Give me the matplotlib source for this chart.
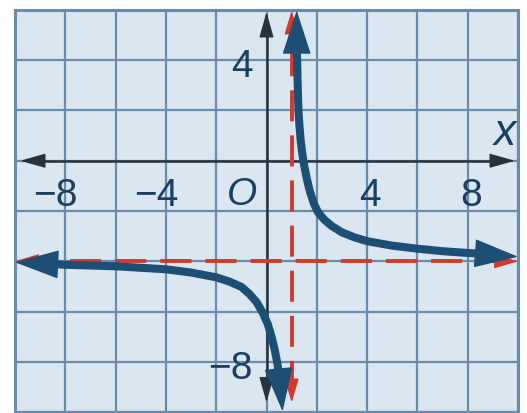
import matplotlib.pyplot as plt
import numpy as np

# right branch of the curve (top arrow tip first, right arrow tip last)
right_x = [1.2, 1.2, 1.22, 1.24, 1.27, 1.31, 1.36, 1.42, 1.5, 1.6, 1.72, 1.88, 2.05, 2.3, 2.6,
           3.0, 3.5, 4.0, 5.0, 6.0, 7.0, 8.0, 8.5, 10.0]
right_y = [5.98, 4.45, 4.0, 3.0, 2.0, 1.4, 0.8, 0.3, -0.2, -0.7, -1.2, -1.7, -2.05, -2.35, -2.6,
           -2.85, -3.05, -3.2, -3.38, -3.5, -3.6, -3.67, -3.7, -3.82]

# left branch (left arrow tip first, bottom arrow tip last)
left_x = [-10.0, -8.4, -8.0, -6.0, -4.0, -3.0, -2.0, -1.5, -1.0, -0.68, -0.4, -0.15, 0.05, 0.2,
          0.32, 0.42, 0.5, 0.64]
left_y = [-4.04, -4.12, -4.14, -4.2, -4.32, -4.45, -4.64, -4.8, -5.02, -5.3, -5.62, -6.05, -6.5,
          -7.0, -7.5, -8.0, -8.5, -9.98]

# asymptotes
asym_x = 1
asym_y = -4

# axis labels
xtick_vals = [-8, -4, 4, 8]
xtick_text = ["\u22128", "\u22124", "4", "8"]
ytick_vals = [4, -8]
ytick_text = ["4", "\u22128"]

bg = "#dbe7f0"
grid_c = "#6b8bab"
axis_c = "#26323f"
curve_c = "#1d4e74"
red = "#d23a2e"
text_c = "#1b3f63"

fig = plt.figure(figsize=(5.27, 4.13), dpi=100)
ax = fig.add_axes([15 / 527, 1 / 413, 503 / 527, 402 / 413])
ax.set_xlim(-10, 10)
ax.set_ylim(-10, 6)
ax.set_facecolor(bg)
ax.set_xticks(np.arange(-10, 11, 2))
ax.set_yticks(np.arange(-10, 7, 2))
ax.tick_params(length=0, labelbottom=False, labelleft=False)
ax.grid(True, color=grid_c, lw=1.6)
ax.set_axisbelow(True)
for s in ax.spines.values():
    s.set_color(grid_c)
    s.set_linewidth(2.2)

def arrow(x0, y0, x1, y1, color, hl, hw, ms, lw=1, z=3):
    ax.annotate("", xy=(x1, y1), xytext=(x0, y0), annotation_clip=False,
                arrowprops=dict(arrowstyle="-|>,head_length=%g,head_width=%g" % (hl, hw),
                                color=color, lw=lw, shrinkA=0, shrinkB=0, mutation_scale=ms),
                zorder=z)

# x and y axes with arrows at both ends
ax.plot([-9.2, 9.3], [0, 0], color=axis_c, lw=1.8, zorder=3)
ax.plot([0, 0], [-9.0, 5.3], color=axis_c, lw=1.8, zorder=3)
arrow(-9.0, 0, -9.8, 0, axis_c, 1.6, 0.45, 10)
arrow(9.0, 0, 9.88, 0, axis_c, 1.6, 0.45, 10)
arrow(0, 5.0, 0, 5.92, axis_c, 1.6, 0.45, 10)
arrow(0, -8.8, 0, -9.62, axis_c, 1.6, 0.45, 10)

# dashed asymptotes
ax.plot([asym_x, asym_x], [-9.2, 5.7], color=red, lw=2.8, dashes=(8, 3.6), zorder=4)
ax.plot([-9.6, 9.6], [asym_y, asym_y], color=red, lw=2.8, dashes=(8, 3.6), zorder=4)
arrow(asym_x, -9.0, asym_x, -9.62, red, 1.5, 0.45, 10, z=4)
arrow(asym_x, 5.3, asym_x, 5.98, red, 1.5, 0.45, 10, z=4)
arrow(-9.3, asym_y, -10.0, asym_y, red, 1.5, 0.45, 10, z=4)
arrow(9.3, asym_y, 10.0, asym_y, red, 1.5, 0.45, 10, z=4)

# curve branches with arrowheads at their ends
ax.plot(right_x[1:-1], right_y[1:-1], color=curve_c, lw=5.8, solid_capstyle="round",
        solid_joinstyle="round", zorder=5)
arrow(right_x[1], right_y[1], right_x[0], right_y[0], curve_c, 1.45, 0.47, 20, z=5)
arrow(right_x[-2], right_y[-2], right_x[-1], right_y[-1], curve_c, 1.45, 0.47, 20, z=5)

ax.plot(left_x[1:-1], left_y[1:-1], color=curve_c, lw=5.8, solid_capstyle="round",
        solid_joinstyle="round", zorder=5)
arrow(left_x[1], left_y[1], left_x[0], left_y[0], curve_c, 1.45, 0.47, 20, z=5)
arrow(left_x[-2], left_y[-2], left_x[-1], left_y[-1], curve_c, 1.45, 0.47, 20, z=5)

# labels
font = dict(family="Liberation Sans", fontsize=28, color=text_c, zorder=6)
for v, t in zip(xtick_vals, xtick_text):
    if v < 0:
        ax.text(v + 0.5, -1.8, t, ha="right", va="baseline", **font)
    else:
        ax.text(v + 0.13, -1.8, t, ha="center", va="baseline", **font)
for v, t in zip(ytick_vals, ytick_text):
    ax.text(-0.54, v - 0.68, t, ha="right", va="baseline", **font)
ax.text(-0.97, -1.75, "O", ha="center", va="baseline", style="italic", **font)
ax.text(9.48, 0.62, "x", ha="center", va="baseline", style="italic",
        family="Liberation Sans", fontsize=32, color=text_c, zorder=6)

fig.savefig("out.png", dpi=100, facecolor="white")
